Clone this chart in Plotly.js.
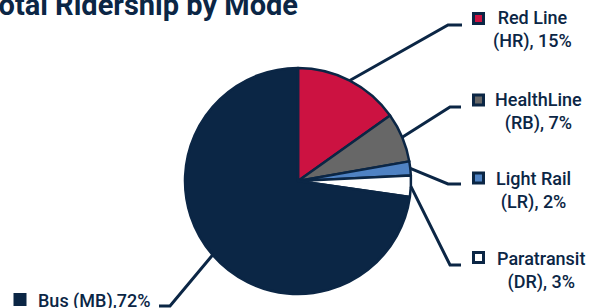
<!DOCTYPE html>
<html>
<head>
<meta charset="utf-8">
<script src="https://cdn.plot.ly/plotly-3.0.1.min.js"></script>
<style>html,body{margin:0;padding:0;background:#fff;}#chart{width:600px;height:308px;}</style>
</head>
<body>
<div id="chart"></div>
<script>
// ---- data ----
const modes = ["Red Line (HR)", "HealthLine (RB)", "Light Rail (LR)", "Paratransit (DR)", "Bus (MB)"];
const shares = [15, 7, 2, 3, 72];
const labelLines1 = ["Red Line", "HealthLine", "Light Rail", "Paratransit", "Bus (MB),72%"];
const labelLines2 = ["(HR), 15%", "(RB), 7%", "(LR), 2%", "(DR), 3%", ""];
const sliceColors = ["#cc1241", "#676767", "#4f82c3", "#ffffff", "#0b2645"];
const titleText = "Total Ridership by Mode";

// ---- layout config ----
const W = 600, H = 308;
const NAVY = "#0b2645";
const cx = 298, cy = 181, R = 113;
// label placement (pixels): marker centre, text centre, elbow, line end
const place = [
  {mx: 478.5, my: 18.5, tx: 532, ty: 30, ex: 448, ey: 25, lx: 462, anchor: "center"},
  {mx: 478.5, my: 100, tx: 538, ty: 111.5, ex: 450, ey: 107, lx: 461, anchor: "center"},
  {mx: 478.5, my: 178, tx: 533, ty: 190.5, ex: 448, ey: 184, lx: 461, anchor: "center"},
  {mx: 478.5, my: 257.5, tx: 541, ty: 270, ex: 450, ey: 265, lx: 461, anchor: "center"},
  {mx: 20, my: 299.5, tx: 37, ty: 300.5, ex: 170, ey: 306, lx: 159, anchor: "left"}
];
const px = x => x / W;
const py = y => 1 - y / H;

const total = shares.reduce((a, b) => a + b, 0);
const shapes = [];
const annotations = [];
let cum = 0;
shares.forEach((v, i) => {
  const mid = (cum + v / 2) / total * 2 * Math.PI;
  cum += v;
  const sx = cx + R * Math.sin(mid), sy = cy - R * Math.cos(mid);
  const p = place[i];
  shapes.push({
    type: "path", xref: "paper", yref: "paper",
    path: `M ${px(sx)},${py(sy)} L ${px(p.ex)},${py(p.ey)} L ${px(p.lx)},${py(p.ey)}`,
    line: {color: NAVY, width: 3}
  });
  const hs = 5;
  shapes.push({
    type: "rect", xref: "paper", yref: "paper",
    x0: px(p.mx - hs), x1: px(p.mx + hs), y0: py(p.my + hs), y1: py(p.my - hs),
    fillcolor: sliceColors[i], line: {color: NAVY, width: 3}
  });
  const txt = labelLines2[i] ? labelLines1[i] + "<br>" + labelLines2[i] : labelLines1[i];
  annotations.push({
    xref: "paper", yref: "paper", x: px(p.tx), y: py(p.ty),
    xanchor: p.anchor, yanchor: "middle", align: "center", showarrow: false,
    borderpad: 0, text: txt,
    font: {family: "Roboto, sans-serif", size: 18, color: NAVY, weight: 500}
  });
});

annotations.push({
  xref: "paper", yref: "paper", x: px(-18), y: py(23.5),
  xanchor: "left", yanchor: "bottom", showarrow: false, borderpad: 0,
  text: "<b>" + titleText + "</b>",
  font: {family: "Roboto, sans-serif", size: 29, color: NAVY}
});

const data = [{
  type: "pie",
  labels: modes,
  values: shares,
  sort: false,
  direction: "clockwise",
  rotation: 0,
  textinfo: "none",
  hoverinfo: "label+percent",
  marker: {colors: sliceColors, line: {color: NAVY, width: 2.5}},
  domain: {x: [px(cx - R), px(cx + R)], y: [py(cy + R), py(cy - R)]},
  showlegend: false
}];

const layout = {
  width: W, height: H,
  margin: {l: 0, r: 0, t: 0, b: 0},
  paper_bgcolor: "#ffffff",
  showlegend: false,
  shapes: shapes,
  annotations: annotations
};

Plotly.newPlot("chart", data, layout, {displayModeBar: false, staticPlot: true});
</script>
</body>
</html>
